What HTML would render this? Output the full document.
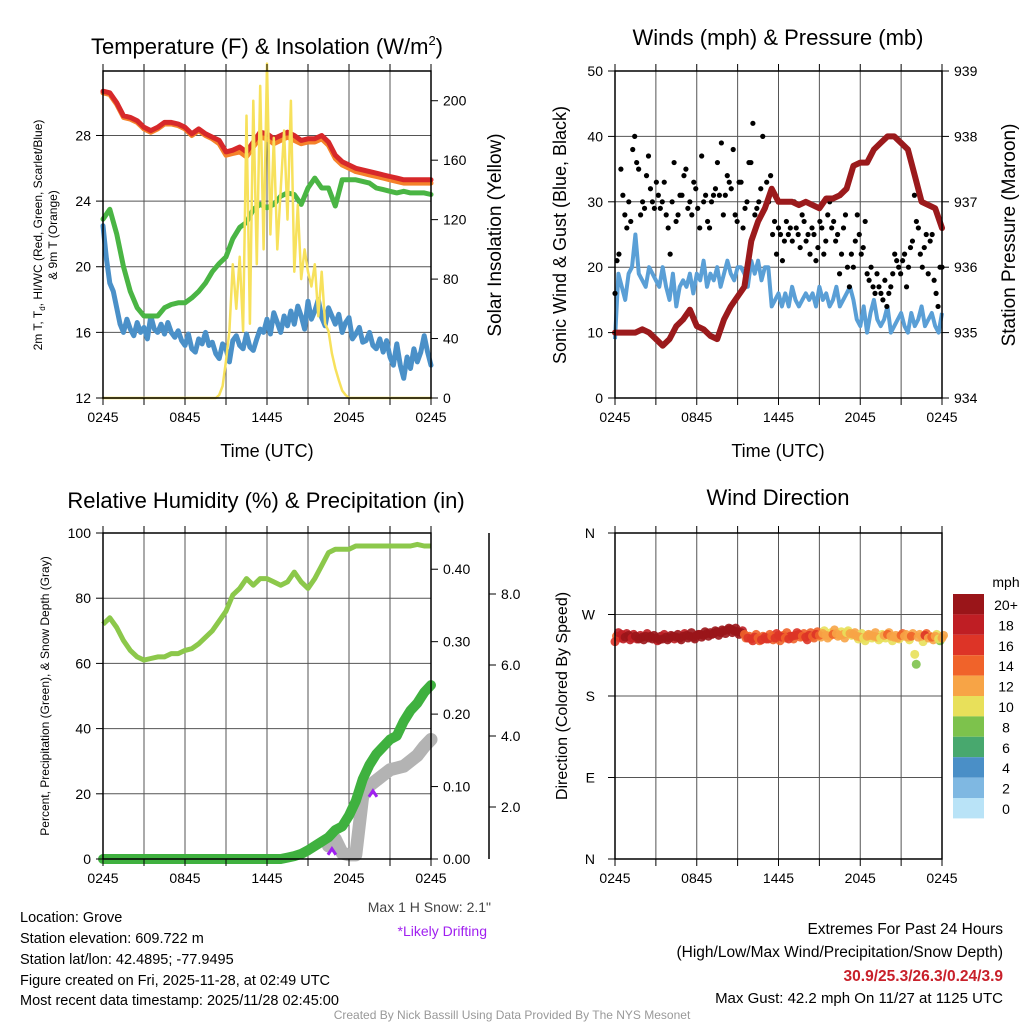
<!DOCTYPE html>
<html><head><meta charset="utf-8"><style>
html,body{margin:0;padding:0;background:#fff;}
svg{display:block;font-family:"Liberation Sans",Arial,sans-serif;}
</style></head><body>
<svg id="chart" width="1024" height="1024" viewBox="0 0 1024 1024" xmlns="http://www.w3.org/2000/svg">
<rect width="1024" height="1024" fill="#fff"/>
<g id="layer-grid"></g>
<g id="layer-data"></g>
<g id="layer-axes"></g>
<g id="layer-text" font-size="14" fill="#000">
  <text x="267" y="54" font-size="22" text-anchor="middle">Temperature (F) &amp; Insolation (W/m<tspan font-size="13" dy="-9">2</tspan><tspan dy="9">)</tspan></text>
  <text x="778" y="45" font-size="22" text-anchor="middle">Winds (mph) &amp; Pressure (mb)</text>
  <text x="266" y="508" font-size="22" text-anchor="middle">Relative Humidity (%) &amp; Precipitation (in)</text>
  <text x="778" y="505" font-size="22" text-anchor="middle">Wind Direction</text>
  <text x="267" y="457" font-size="18" text-anchor="middle">Time (UTC)</text>
  <text x="778" y="457" font-size="18" text-anchor="middle">Time (UTC)</text>
  <text transform="translate(42,235) rotate(-90)" font-size="12" text-anchor="middle">2m T, T<tspan font-size="8" dy="3">d</tspan><tspan dy="-3">, HI/WC (Red, Green, Scarlet/Blue)</tspan></text>
  <text transform="translate(57,235) rotate(-90)" font-size="12" text-anchor="middle">&amp; 9m T (Orange)</text>
  <text transform="translate(501,235) rotate(-90)" font-size="19" text-anchor="middle">Solar Insolation (Yellow)</text>
  <text transform="translate(566,235) rotate(-90)" font-size="18" text-anchor="middle">Sonic Wind &amp; Gust (Blue, Black)</text>
  <text transform="translate(1015,235) rotate(-90)" font-size="19" text-anchor="middle">Station Pressure (Maroon)</text>
  <text transform="translate(49,696) rotate(-90)" font-size="12" text-anchor="middle">Percent, Precipitation (Green), &amp; Snow Depth (Gray)</text>
  <text transform="translate(567,696) rotate(-90)" font-size="16" text-anchor="middle">Direction (Colored By Speed)</text>
  <text x="491" y="912" font-size="14" fill="#444" text-anchor="end">Max 1 H Snow: 2.1"</text>
  <text x="487" y="936" font-size="14" fill="#a020f0" text-anchor="end">*Likely Drifting</text>
  <g font-size="14.5">
    <text x="20" y="922">Location: Grove</text>
    <text x="20" y="943">Station elevation: 609.722 m</text>
    <text x="20" y="964">Station lat/lon: 42.4895; -77.9495</text>
    <text x="20" y="985">Figure created on Fri, 2025-11-28, at 02:49 UTC</text>
    <text x="20" y="1005">Most recent data timestamp: 2025/11/28 02:45:00</text>
  </g>
  <g font-size="15.5" text-anchor="end">
    <text x="1003" y="934">Extremes For Past 24 Hours</text>
    <text x="1003" y="957">(High/Low/Max Wind/Precipitation/Snow Depth)</text>
    <text x="1003" y="981" fill="#c8202a" font-weight="bold">30.9/25.3/26.3/0.24/3.9</text>
    <text x="1003" y="1003" font-size="15">Max Gust: 42.2 mph On 11/27 at 1125 UTC</text>
  </g>
  <text x="512" y="1019" font-size="12" fill="#999" text-anchor="middle">Created By Nick Bassill Using Data Provided By The NYS Mesonet</text>
  <text x="1006" y="587" font-size="14" text-anchor="middle">mph</text>
</g>
</svg>
<script>
const timeLabels=["0245","0845","1445","2045","0245"];
const tempRed=[30.7,30.6,30.0,29.2,29.1,28.9,28.5,28.3,28.5,28.8,28.8,28.7,28.5,28.1,28.4,28.1,27.9,27.7,27.0,27.1,27.3,27.0,27.6,28.2,28.1,27.8,28.0,28.2,28.0,27.7,27.8,27.8,28.0,27.6,26.8,26.4,26.2,26.0,25.9,25.8,25.7,25.6,25.5,25.4,25.3,25.3,25.3,25.3,25.3];
const temp9m=[30.6,30.5,29.9,29.1,29.0,28.8,28.4,28.2,28.4,28.7,28.7,28.6,28.4,28.0,28.3,28.0,27.8,27.5,26.8,26.9,27.0,26.7,27.3,27.9,27.8,27.5,27.7,27.9,27.7,27.5,27.6,27.6,27.8,27.4,26.6,26.2,26.0,25.8,25.7,25.6,25.5,25.4,25.3,25.2,25.1,25.1,25.1,25.1,25.1];
const dewGreen=[22.9,23.5,22.0,20.0,18.5,17.5,17.0,17.0,17.0,17.5,17.7,17.8,17.8,18.1,18.5,19.0,19.7,20.2,20.6,21.7,22.4,22.7,23.5,23.8,23.6,23.8,24.3,24.5,24.4,23.8,24.8,25.4,24.8,24.8,23.7,25.3,25.3,25.3,25.2,25.1,24.8,24.7,24.6,24.5,24.6,24.5,24.5,24.5,24.4];
const windChill=[22.5,20.5,19.0,18.5,17.5,16.5,16.0,16.8,16.2,15.8,16.6,16.0,16.3,15.6,17.0,16.2,16.0,16.5,15.9,16.6,16.0,15.7,16.1,15.5,15.2,15.9,15.0,14.8,15.6,15.3,16.0,15.2,15.4,14.7,14.4,15.3,15.0,14.2,15.5,15.8,15.2,15.0,15.9,15.1,14.9,15.6,16.2,16.0,16.8,15.9,17.2,16.6,16.0,17.0,16.4,17.3,16.5,17.6,17.0,16.2,17.9,16.8,17.3,18.0,16.9,16.4,17.5,17.0,16.5,17.1,16.0,16.6,16.9,15.6,15.9,16.3,15.4,15.5,16.0,15.2,15.0,15.6,14.8,15.5,14.5,14.0,15.3,14.0,13.2,14.5,13.8,15.0,14.2,14.8,15.8,14.8,14.0];
const solar=[0,0,0,0,0,0,0,0,0,0,0,0,0,0,0,0,0,0,0,0,0,0,0,0,0,0,0,0,0,0,0,0,0,0,2,8,25,45,90,60,95,45,190,50,200,90,210,100,225,110,175,100,140,180,120,200,85,130,80,100,85,75,90,55,85,50,45,30,20,12,5,2,0,0,0,0,0,0,0,0,0,0,0,0,0,0,0,0,0,0,0,0,0,0,0,0,0];
const tempTicks=[12,16,20,24,28];
const solarTicks=[0,40,80,120,160,200];
const windSpeed=[9,19,17,15,19,20,25,19,18,17,20,19,18,17,20,17,15,19,14,17,18,17,19,16,19,18,21,17,19,18,20,17,19,21,19,18,20,20,19,17,21,19,21,18,20,20,14,15,16,14,16,14,17,15,14,15,16,15,16,14,17,15,16,14,15,17,14,15,16,17,15,12,11,14,10,13,15,12,11,12,14,10,11,12,13,11,10,13,11,12,14,11,12,13,11,10,13];
const windGust=[16,21,22,35,31,28,26,30,27,38,40,36,35,28,30,29,34,37,32,30,29,33,31,29,30,33,28,26,22,30,36,27,28,31,31,34,35,29,30,28,33,32,29,26,37,30,31,27,26,30,31,32,36,31,39,28,31,34,33,32,38,28,27,33,33,26,29,30,36,36,42,28,29,30,32,40,29,33,30,34,25,27,22,26,25,21,24,27,25,26,24,30,26,25,23,28,27,24,25,22,26,25,21,23,27,26,22,24,28,30,26,27,24,25,19,22,26,28,20,17,22,20,24,28,25,22,23,27,19,18,20,17,16,19,17,16,15,18,14,16,17,19,22,21,20,19,21,22,17,20,23,24,31,27,26,22,20,23,25,19,24,25,18,16,14,20,20];
const pressure=[935.0,935.0,935.0,935.0,935.05,935.0,934.9,934.8,934.9,935.1,935.2,935.35,935.1,935.05,934.95,934.9,935.2,935.4,935.55,935.7,936.4,936.7,936.9,937.2,937.0,937.0,937.0,936.95,937.0,936.95,936.9,937.05,937.05,937.1,937.2,937.55,937.6,937.6,937.8,937.9,938.0,938.0,937.9,937.8,937.4,937.0,936.95,936.9,936.6];
const windTicks=[0,10,20,30,40,50];
const pressTicks=[934,935,936,937,938,939];
const rh=[72,74,71,67,64,62,61,61.5,62,62,63,63,64,64.5,66,68,70,73,76,81,83,86,84,86,86,85,84,85,88,85,83,86,90,94,95,95,95,96,96,96,96,96,96,96,96,96,96.5,96,96];
const precip=[0,0,0,0,0,0,0,0,0,0,0,0,0,0,0,0,0,0,0,0,0,0,0,0,0,0,0,0.002,0.004,0.007,0.012,0.018,0.024,0.03,0.04,0.045,0.06,0.08,0.11,0.13,0.145,0.155,0.165,0.17,0.19,0.205,0.215,0.23,0.24];
const snowDepth=[null,null,null,null,null,null,null,null,null,null,null,null,null,null,null,null,null,null,null,null,null,null,null,null,null,null,null,null,null,null,null,null,null,0.9,1.1,0.7,0.65,0.65,2.3,2.6,2.75,2.9,3.05,3.1,3.15,3.3,3.45,3.7,3.9];
const driftIdx=[33.5,39.5];
const driftVal=[0.01,0.09];
const rhTicks=[0,20,40,60,80,100];
const precipTicks=["0.00","0.10","0.20","0.30","0.40"];
const snowTicks=["2.0","4.0","6.0","8.0"];
const windDir=[240,250,248,245,247,244,246,243,245,246,244,243,244,242,243,245,244,246,245,244,246,247,246,245,247,248,247,249,250,249,251,250,252,253,254,252,251,250,248,244,243,245,244,242,245,243,246,244,247,245,244,243,246,247,248,246,245,247,246,248,247,249,247,246,248,249,247,248,250,249,248,246,245,244,246,247,246,245,244,247,248,246,245,244,247,246,245,246,226,245,246,247,244,245,246,243,244];
const windDirB=[246,244,243,249,242,248,243,247,242,249,246,247,241,246,248,242,247,243,248,242,249,244,250,243,248,245,251,246,248,252,247,253,249,255,250,255,248,252,244,246,241,248,241,246,243,248,242,249,241,247,250,246,243,250,245,249,242,250,244,251,245,252,244,250,253,246,251,244,252,247,250,243,249,241,248,244,250,242,248,244,250,241,247,243,249,248,242,249,215,248,240,249,246,242,248,241,247];
const dirSpeed=[16,18,19,20,20,19,20,20,21,20,21,21,20,21,20,21,21,20,21,21,20,21,22,21,21,22,21,22,22,21,22,22,22,21,22,22,21,20,15,16,17,16,15,16,17,16,15,17,16,16,15,17,16,17,16,15,17,16,15,16,14,12,13,12,14,13,12,13,11,12,13,12,12,11,13,12,13,12,11,12,14,12,13,12,15,13,12,14,10,13,12,16,13,14,12,10,13];
const dirLabels=["N","E","S","W","N"];
const cbLabels=["20+","18","16","14","12","10","8","6","4","2","0"];
const cbColors=["#9a1519","#bf1e24","#dd3427","#f0632a","#f7a446","#e8e05a","#7dc24c","#48a86e","#4a8fc7","#7fb8e2","#b9e3f7"];

const NS="http://www.w3.org/2000/svg";
const G=document.getElementById('layer-grid'),D=document.getElementById('layer-data'),A=document.getElementById('layer-axes');
function mk(tag,parent,attrs){const e=document.createElementNS(NS,tag);for(const k in attrs)e.setAttribute(k,attrs[k]);parent.appendChild(e);return e;}
function lin(d0,d1,r0,r1){return v=>r0+(v-d0)/(d1-d0)*(r1-r0);}
function idxX(n,x0,x1){return i=>x0+i/(n-1)*(x1-x0);}
function pathOf(arr,fx,fy){let s="",pen=false;arr.forEach((v,i)=>{if(v===null){pen=false;return;}s+=(pen?"L":"M")+fx(i).toFixed(1)+","+fy(v).toFixed(1);pen=true;});return s;}
function txt(parent,x,y,s,anchor,size,fill){const t=mk('text',parent,{x:x,y:y,'text-anchor':anchor||'middle','font-size':size||14,fill:fill||'#000'});t.textContent=s;return t;}

function frame(x0,x1,y0,y1,name){
  const r=mk('rect',A,{x:x0,y:y0,width:x1-x0,height:y1-y0,fill:'none',stroke:'#000','stroke-width':1.5});
  
  
  for(let k=0;k<=8;k++){const x=x0+k*(x1-x0)/8;
    mk('line',G,{x1:x,x2:x,y1:y0,y2:y1,stroke:'#555','stroke-width':1});
    mk('line',A,{x1:x,x2:x,y1:y1,y2:y1+7,stroke:'#000','stroke-width':1});
    mk('line',A,{x1:x,x2:x,y1:y0,y2:y0-7,stroke:'#000','stroke-width':1});}
  const g=mk('g',A,{});
  
  
  timeLabels.forEach((s,k)=>txt(g,x0+k*(x1-x0)/4,y1+24,s,'middle',14));
}
function hgrid(vals,fy,x0,x1){vals.forEach(v=>mk('line',G,{x1:x0,x2:x1,y1:fy(v),y2:fy(v),stroke:'#555','stroke-width':1}));}
function yticks(vals,labels,fy,x,side,name,len){const g=mk('g',A,{});
  
  
  vals.forEach((v,k)=>{const y=fy(v);mk('line',g,{x1:x,x2:x+side*(len||7),y1:y,y2:y,stroke:'#000','stroke-width':1});
    txt(g,side<0?x-12:x+12,y+5,labels[k],side<0?'end':'start',14);});}

// ---------- Panel 1: Temperature ----------
(function(){const x0=103,x1=431,y0=71,y1=398;
  const fyT=lin(12,31.93,y1,y0),fyS=lin(0,220,y1,y0);
  frame(x0,x1,y0,y1,'temp');
  hgrid(tempTicks,fyT,x0,x1);
  yticks(tempTicks,tempTicks.map(String),fyT,x0,-1,'temp-y-ticks');
  yticks(solarTicks,solarTicks.map(String),fyS,x1,1,'solar-y-ticks');
  const series=[[windChill,'#4a90c8',5,'wind-chill-line'],[dewGreen,'#4ab544',5,'dewpoint-line'],[temp9m,'#f5822a',5,'temp-9m-line'],[tempRed,'#d7282a',5,'temp-2m-line'],[solar,'#f7e15c',2.5,'solar-line']];
  series.forEach(s=>{const p=mk('path',D,{d:pathOf(s[0],idxX(s[0].length,x0,x1),s[0]===solar?fyS:fyT),fill:'none',stroke:s[1],'stroke-width':s[2],'stroke-linejoin':'round','stroke-linecap':'round'});
    
    });
})();

// ---------- Panel 2: Winds ----------
(function(){const x0=615,x1=942,y0=71,y1=398;
  const fyW=lin(0,50,y1,y0),fyP=lin(934,939,y1,y0);
  frame(x0,x1,y0,y1,'wind');
  hgrid(windTicks,fyW,x0,x1);
  yticks(windTicks,windTicks.map(String),fyW,x0,-1,'wind-y-ticks');
  yticks(pressTicks,pressTicks.map(String),fyP,x1,1,'pressure-y-ticks');
  let p=mk('path',D,{d:pathOf(windSpeed,idxX(windSpeed.length,x0,x1),fyW),fill:'none',stroke:'#5a9fd6','stroke-width':4,'stroke-linejoin':'round'});
  
  
  const gg=mk('g',D,{fill:'#000'});
  
  
  const fx=idxX(windGust.length,x0,x1);
  windGust.forEach((v,i)=>mk('circle',gg,{cx:fx(i),cy:fyW(v),r:2.6}));
  p=mk('path',D,{d:pathOf(pressure,idxX(pressure.length,x0,x1),fyP),fill:'none',stroke:'#9b1a1c','stroke-width':6,'stroke-linejoin':'round','stroke-linecap':'round'});
  
  
})();

// ---------- Panel 3: RH ----------
(function(){const x0=103,x1=431,y0=533,y1=859;
  const fyR=lin(0,100,y1,y0),fyPr=lin(0,0.45,y1,y0),fySn=lin(0,8,878,594);
  frame(x0,x1,y0,y1,'rh');
  hgrid(rhTicks,fyR,x0,x1);
  yticks(rhTicks,rhTicks.map(String),fyR,x0,-1,'rh-y-ticks');
  yticks(precipTicks.map(Number),precipTicks,fyPr,x1,1,'precip-y-ticks');
  mk('line',A,{x1:489,x2:489,y1:533,y2:859,stroke:'#000','stroke-width':1.5});
  yticks(snowTicks.map(Number),snowTicks,fySn,489,1,'snow-y-ticks');
  const fx=idxX(rh.length,x0,x1);
  let p=mk('path',D,{d:pathOf(snowDepth,fx,fySn),fill:'none',stroke:'#b3b3b3','stroke-width':13,'stroke-linejoin':'round','stroke-linecap':'round'});
  
  
  const dg=mk('g',D,{stroke:'#a020f0','stroke-width':3,fill:'none'});
  
  
  driftIdx.forEach((v,k)=>{const x=fx(v),y=fyPr(driftVal[k]);mk('path',dg,{d:`M${x-4},${y+3}L${x},${y-3}L${x+4},${y+3}`});});
  p=mk('path',D,{d:pathOf(precip,fx,fyPr),fill:'none',stroke:'#3fb13f','stroke-width':10,'stroke-linejoin':'round','stroke-linecap':'round'});
  
  
  p=mk('path',D,{d:pathOf(rh,fx,fyR),fill:'none',stroke:'#8cc84b','stroke-width':5,'stroke-linejoin':'round'});
  
  
})();

// ---------- Panel 4: Direction ----------
(function(){const x0=615,x1=942,y0=533,y1=859;
  const fyD=lin(0,360,y1,y0);
  frame(x0,x1,y0,y1,'dir');
  const dv=[0,90,180,270,360];
  hgrid(dv,fyD,x0,x1);
  const g=mk('g',A,{});
  
  
  dv.forEach((v,k)=>{mk('line',g,{x1:x0,x2:x0-7,y1:fyD(v),y2:fyD(v),stroke:'#000'});txt(g,x0-20,fyD(v)+5,dirLabels[k],'end',14);});
  const pg=mk('g',D,{});
  
  
  const fx=idxX(windDir.length,x0,x1);
  const col=s=>cbColors[10-Math.min(10,Math.floor(s/2))];
  windDirB.forEach((v,i)=>mk('circle',pg,{cx:fx(i)+1.5,cy:fyD(v),r:4.5,fill:col(dirSpeed[i]-1),'fill-opacity':0.9}));
  windDir.forEach((v,i)=>mk('circle',pg,{cx:fx(i),cy:fyD(v),r:4.5,fill:col(dirSpeed[i]),'fill-opacity':0.9}));
  const cb=mk('g',A,{});
  
  
  cbColors.forEach((c,k)=>{mk('rect',cb,{x:953,y:594+k*20.4,width:31,height:20.4,fill:c});txt(cb,1006,610+k*20.4,cbLabels[k],'middle',14);});
})();
</script>
</body></html>
